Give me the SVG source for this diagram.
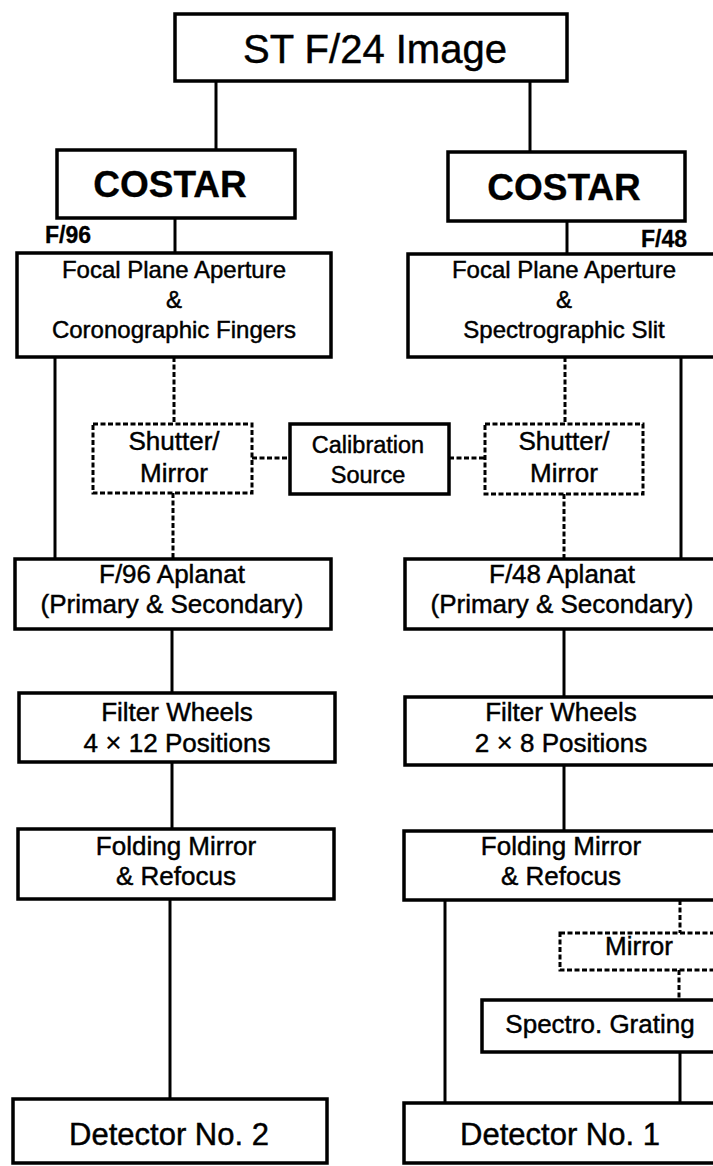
<svg xmlns="http://www.w3.org/2000/svg" width="713" height="1166" viewBox="0 0 713 1166">
<style>
.box{fill:#fff;stroke:#000;stroke-width:3.5}
.dbox{fill:#fff;stroke:#000;stroke-width:3;stroke-dasharray:5 2.5}
.ln{stroke:#000;stroke-width:3;fill:none}
.dl{stroke:#000;stroke-width:3;fill:none;stroke-dasharray:5 2.5}
text{font-family:"Liberation Sans",Arial,Helvetica,sans-serif;fill:#000;stroke:#000;stroke-width:0.45;text-anchor:middle}
.b{font-weight:bold;stroke-width:0.3}
.s24{font-size:24px}
.s26{font-size:26px}
.x{font-size:28px;stroke-width:0.2}
</style>
<rect width="713" height="1166" fill="#fff"/>
<g id="connectors">
<line class="ln" x1="216" y1="81" x2="216" y2="150"/>
<line class="ln" x1="530" y1="81" x2="530" y2="152"/>
<line class="ln" x1="175" y1="218" x2="175" y2="253"/>
<line class="ln" x1="567" y1="221" x2="567" y2="254"/>
<line class="ln" x1="55" y1="357" x2="55" y2="559"/>
<line class="ln" x1="681" y1="357" x2="681" y2="559"/>
<line class="ln" x1="172" y1="629" x2="172" y2="693"/>
<line class="ln" x1="564" y1="629" x2="564" y2="697"/>
<line class="ln" x1="172" y1="762" x2="172" y2="829"/>
<line class="ln" x1="564" y1="765" x2="564" y2="831"/>
<line class="ln" x1="170" y1="899" x2="170" y2="1099"/>
<line class="ln" x1="445" y1="900" x2="445" y2="1103"/>
<line class="ln" x1="680" y1="1052" x2="680" y2="1103"/>
<line class="dl" x1="174" y1="357" x2="174" y2="424"/>
<line class="dl" x1="173" y1="493" x2="173" y2="559"/>
<line class="dl" x1="565" y1="357" x2="565" y2="424"/>
<line class="dl" x1="564" y1="494" x2="564" y2="559"/>
<line class="dl" x1="252" y1="458" x2="290" y2="458"/>
<line class="dl" x1="449" y1="458" x2="485" y2="458"/>
<line class="dl" x1="680" y1="900" x2="680" y2="933"/>
<line class="dl" x1="679" y1="970" x2="679" y2="1000"/>
</g>
<g id="st-image">
<rect class="box" x="175" y="14" width="392" height="67"/>
<text x="375" y="63" style="font-size:40px">ST F/24 Image</text>
</g>
<g id="costar-left">
<rect class="box" x="57" y="150" width="238" height="68"/>
<text class="b" x="170" y="197" style="font-size:37px">COSTAR</text>
</g>
<g id="costar-right">
<rect class="box" x="448" y="152" width="237" height="69"/>
<text class="b" x="564" y="200" style="font-size:37px">COSTAR</text>
</g>
<g id="label-f96">
<text class="b" x="45" y="243" style="font-size:23px;text-anchor:start">F/96</text>
</g>
<g id="label-f48">
<text class="b" x="687" y="247" style="font-size:23px;text-anchor:end">F/48</text>
</g>
<g id="focal-left">
<rect class="box" x="17" y="253" width="314" height="104"/>
<text class="s24" x="174" y="278">Focal Plane Aperture</text>
<text class="s24" x="174" y="308">&amp;</text>
<text class="s24" x="174" y="338">Coronographic Fingers</text>
</g>
<g id="focal-right">
<rect class="box" x="408" y="254" width="312" height="103"/>
<text class="s24" x="564" y="278">Focal Plane Aperture</text>
<text class="s24" x="564" y="308">&amp;</text>
<text class="s24" x="564" y="338">Spectrographic Slit</text>
</g>
<g id="shutter-left">
<rect class="dbox" x="93" y="424" width="159" height="69"/>
<text class="s26" x="174" y="450">Shutter/</text>
<text class="s26" x="174" y="482">Mirror</text>
</g>
<g id="calibration">
<rect class="box" x="290" y="424" width="159" height="70"/>
<text x="368" y="453" style="font-size:23.5px">Calibration</text>
<text x="368" y="483" style="font-size:23.5px">Source</text>
</g>
<g id="shutter-right">
<rect class="dbox" x="485" y="424" width="158" height="70"/>
<text class="s26" x="564" y="450">Shutter/</text>
<text class="s26" x="564" y="482">Mirror</text>
</g>
<g id="aplanat-left">
<rect class="box" x="15" y="559" width="316" height="70"/>
<text class="s26" x="172" y="583">F/96 Aplanat</text>
<text class="s26" x="172" y="613">(Primary &amp; Secondary)</text>
</g>
<g id="aplanat-right">
<rect class="box" x="405" y="559" width="315" height="70"/>
<text class="s26" x="562" y="583">F/48 Aplanat</text>
<text class="s26" x="562" y="613">(Primary &amp; Secondary)</text>
</g>
<g id="filter-left">
<rect class="box" x="19" y="693" width="316" height="69"/>
<text class="s26" x="177" y="721">Filter Wheels</text>
<text class="s26" x="177" y="752">4 <tspan class="x">×</tspan> 12 Positions</text>
</g>
<g id="filter-right">
<rect class="box" x="405" y="697" width="315" height="68"/>
<text class="s26" x="561" y="721">Filter Wheels</text>
<text class="s26" x="561" y="752">2 <tspan class="x">×</tspan> 8 Positions</text>
</g>
<g id="folding-left">
<rect class="box" x="18" y="829" width="316" height="70"/>
<text class="s26" x="176" y="855">Folding Mirror</text>
<text class="s26" x="176" y="885">&amp; Refocus</text>
</g>
<g id="folding-right">
<rect class="box" x="404" y="831" width="316" height="69"/>
<text class="s26" x="561" y="855">Folding Mirror</text>
<text class="s26" x="561" y="885">&amp; Refocus</text>
</g>
<g id="mirror">
<rect class="dbox" x="560" y="933" width="160" height="37"/>
<text class="s26" x="639" y="955">Mirror</text>
</g>
<g id="grating">
<rect class="box" x="482" y="1000" width="238" height="52"/>
<text class="s26" x="600" y="1033">Spectro. Grating</text>
</g>
<g id="detector-2">
<rect class="box" x="13" y="1099" width="314" height="64"/>
<text x="169" y="1145" style="font-size:31px">Detector No. 2</text>
</g>
<g id="detector-1">
<rect class="box" x="404" y="1103" width="316" height="60"/>
<text x="560" y="1145" style="font-size:31px">Detector No. 1</text>
</g>
</svg>
